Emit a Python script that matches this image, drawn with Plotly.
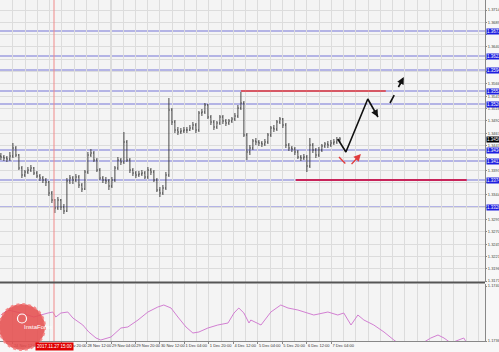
import plotly.graph_objects as go

# ---------------- data ----------------
closes = [
1.3420,1.3418,1.3416,1.3422,1.3438,1.3424,1.3398,1.3384,1.3390,1.3394,
1.3398,1.3388,1.3382,1.3378,1.3374,1.3370,1.3348,1.3334,1.3318,1.3334,
1.3320,1.3312,1.3372,1.3378,1.3374,1.3380,1.3364,1.3356,1.3390,1.3424,
1.3428,1.3414,1.3394,1.3378,1.3374,1.3372,1.3362,1.3374,1.3398,1.3414,
1.3410,1.3450,1.3414,1.3394,1.3388,1.3384,1.3386,1.3388,1.3380,1.3394,
1.3390,1.3374,1.3354,1.3348,1.3358,1.3384,1.3514,1.3490,1.3474,1.3470,
1.3472,1.3474,1.3474,1.3478,1.3484,1.3474,1.3508,1.3510,1.3524,1.3500,
1.3490,1.3480,1.3488,1.3500,1.3492,1.3488,1.3492,1.3496,1.3502,1.3518,
1.3528,1.3464,1.3430,1.3438,1.3452,1.3450,1.3448,1.3446,1.3450,1.3464,
1.3478,1.3476,1.3490,1.3496,1.3484,1.3444,1.3438,1.3436,1.3430,1.3420,
1.3418,1.3420,1.3402,1.3444,1.3434,1.3424,1.3434,1.3442,1.3446,1.3444,
1.3448,1.3450,1.3454,1.3456]

highs = [
1.3428,1.3424,1.3422,1.3430,1.3448,1.3442,1.3426,1.3402,1.3394,1.3400,
1.3404,1.3400,1.3392,1.3386,1.3382,1.3378,1.3372,1.3352,1.3336,1.3340,
1.3336,1.3326,1.3378,1.3384,1.3382,1.3386,1.3384,1.3368,1.3394,1.3430,
1.3436,1.3432,1.3418,1.3398,1.3382,1.3380,1.3376,1.3380,1.3402,1.3420,
1.3418,1.3470,1.3454,1.3418,1.3398,1.3392,1.3392,1.3394,1.3392,1.3400,
1.3398,1.3394,1.3378,1.3360,1.3364,1.3390,1.3538,1.3518,1.3494,1.3480,
1.3478,1.3480,1.3480,1.3484,1.3490,1.3488,1.3512,1.3516,1.3528,1.3526,
1.3504,1.3494,1.3492,1.3504,1.3504,1.3496,1.3496,1.3500,1.3508,1.3524,
1.3550,1.3532,1.3468,1.3444,1.3456,1.3458,1.3454,1.3452,1.3456,1.3468,
1.3482,1.3484,1.3494,1.3500,1.3498,1.3488,1.3448,1.3442,1.3440,1.3434,
1.3424,1.3426,1.3424,1.3458,1.3448,1.3438,1.3440,1.3446,1.3450,1.3452,
1.3454,1.3456,1.3460,1.3460]

lows = [
1.3414,1.3412,1.3410,1.3412,1.3418,1.3420,1.3394,1.3378,1.3380,1.3386,
1.3390,1.3384,1.3378,1.3372,1.3368,1.3362,1.3342,1.3328,1.3308,1.3314,
1.3314,1.3306,1.3310,1.3366,1.3366,1.3370,1.3358,1.3350,1.3354,1.3386,
1.3420,1.3410,1.3390,1.3374,1.3368,1.3366,1.3354,1.3358,1.3370,1.3394,
1.3404,1.3406,1.3410,1.3388,1.3382,1.3378,1.3380,1.3382,1.3376,1.3376,
1.3384,1.3370,1.3350,1.3340,1.3344,1.3354,1.3380,1.3484,1.3468,1.3464,
1.3466,1.3468,1.3468,1.3472,1.3474,1.3468,1.3470,1.3502,1.3506,1.3496,
1.3484,1.3474,1.3476,1.3484,1.3486,1.3482,1.3484,1.3488,1.3492,1.3498,
1.3514,1.3460,1.3414,1.3424,1.3434,1.3444,1.3442,1.3440,1.3442,1.3446,
1.3460,1.3470,1.3472,1.3486,1.3478,1.3438,1.3432,1.3430,1.3424,1.3416,
1.3412,1.3414,1.3390,1.3398,1.3428,1.3418,1.3420,1.3430,1.3438,1.3438,
1.3440,1.3444,1.3446,1.3450]

first_open = 1.3422
opens = [first_open] + closes[:-1]
bars = list(range(len(closes)))

# oscillator (lower window)
osc_x = [
0.0,2.3,6.7,11.0,15.7,17.3,18.3,20.0,22.3,24.0,
27.3,29.3,31.7,33.3,36.7,40.0,42.3,45.7,49.0,52.3,
54.3,56.7,59.0,61.7,64.0,66.0,69.0,72.3,75.7,77.7,
79.3,81.0,82.7,83.3,86.7,90.0,93.3,95.7,99.0,102.3,
104.3,109.0,112.3,114.3,116.7,119.0,121.0,124.3,127.7,131.0,
133.3,136.7,140.7,143.3,145.7,147.7,150.0,152.3,154.3,155.7]
osc_val = [
26,31,28,24,28,29,24,28,29,23,
16,9,3,1,4,13,14,21,29,34,
36,33,24,14,8,9,13,16,18,28,
33,28,18,21,16,29,36,33,31,28,
26,29,26,28,16,26,21,16,9,1,
-4,-9,-2,3,6,3,-2,1,3,-4]
osc_ticks = [55, 0]
osc_tick_labels = ["1.17400", "1.17362"]

# horizontal levels
blue_levels = [1.3672, 1.3622, 1.3594, 1.3552, 1.3526, 1.3434, 1.3412, 1.3374, 1.3320]
resist_level = 1.3552
resist_span = [80.0, 128.3]
support_level = 1.3374
support_span = [98.3, 155.3]

# forecast paths
fc_main_x = [112.3, 115.0, 122.3, 125.7]
fc_main_y = [1.3456, 1.3430, 1.3536, 1.3500]
fc_next_x = [129.7, 134.3]
fc_next_y = [1.3528, 1.3580]
fc_alt_x = [112.7, 116.0, 120.0]
fc_alt_y = [1.3420, 1.3400, 1.3426]

# axes
price_ticks = [1.37140, 1.36894, 1.36647, 1.36401, 1.36154, 1.35908, 1.35662, 1.35415,
               1.35169, 1.34922, 1.34676, 1.34430, 1.34183, 1.33937, 1.33690, 1.33444,
               1.33198, 1.32951, 1.32705, 1.32458, 1.32212, 1.31966, 1.31719]
price_tick_labels = ["1.37140", "1.36894", "", "1.36401", "", "", "1.35662", "1.35415",
                     "1.35169", "1.34922", "1.34676", "1.34430", "", "1.33937", "", "1.33444",
                     "", "1.32951", "1.32705", "1.32458", "1.32212", "1.31966", "1.31719"]
time_tick_bars = [4.0, 12.2, 20.3, 28.5, 36.7, 44.8, 53.0, 61.2, 69.3, 77.5, 85.7, 93.8, 102.0, 110.2]
time_tick_labels = ["24 Nov 12:00", "27 Nov 04:00", "27 Nov 20:00", "28 Nov 12:00",
                    "29 Nov 04:00", "29 Nov 20:00", "30 Nov 12:00", "1 Dec 04:00",
                    "1 Dec 20:00", "4 Dec 12:00", "5 Dec 04:00", "5 Dec 20:00",
                    "6 Dec 12:00", "7 Dec 04:00"]
marker_bar = 17.7
marker_label = "2017.11.27 15:00"

# ---------------- figure ----------------
W, H = 499, 352
ML, MR, MT, MB = 0, 14, 0, 11
PH = H - MT - MB  # 341
main_bottom = 1 - 282 / PH
osc_top = 57 / PH
FONT = "Liberation Sans"
GRID = "#dcdcdc"

fig = go.Figure()
fig.add_trace(go.Ohlc(
    x=bars, open=opens, high=highs, low=lows, close=closes,
    increasing=dict(line=dict(color="#333333", width=0.9)),
    decreasing=dict(line=dict(color="#333333", width=0.9)),
    tickwidth=0.3, xaxis="x", yaxis="y", hoverinfo="skip", showlegend=False))

fig.add_trace(go.Scatter(x=osc_x, y=osc_val, xaxis="x2", yaxis="y2", mode="lines",
                         line=dict(color="#d27fd2", width=1), showlegend=False, hoverinfo="skip"))

fig.add_trace(go.Scatter(x=fc_main_x, y=fc_main_y, mode="lines",
                         line=dict(color="#111111", width=1.6), showlegend=False, hoverinfo="skip"))
fig.add_trace(go.Scatter(x=fc_next_x, y=fc_next_y, mode="lines",
                         line=dict(color="#111111", width=1.6, dash="dash"), showlegend=False, hoverinfo="skip"))
fig.add_trace(go.Scatter(x=fc_alt_x, y=fc_alt_y, mode="lines",
                         line=dict(color="#e03c3c", width=1.4, dash="dash"), showlegend=False, hoverinfo="skip"))

shapes = []
for lv in blue_levels:
    shapes.append(dict(type="line", xref="paper", x0=0, x1=1, yref="y", y0=lv, y1=lv,
                       line=dict(color="#7474d6", width=1), layer="below"))
shapes.append(dict(type="line", xref="x", x0=resist_span[0], x1=resist_span[1], yref="y",
                   y0=resist_level, y1=resist_level, line=dict(color="#e23a3a", width=1.6)))
shapes.append(dict(type="line", xref="x", x0=support_span[0], x1=support_span[1], yref="y",
                   y0=support_level, y1=support_level, line=dict(color="#c8245a", width=2)))
shapes.append(dict(type="line", xref="x", x0=marker_bar, x1=marker_bar, yref="paper", y0=0, y1=1,
                   line=dict(color="#f08a8a", width=1)))
# separator between windows
shapes.append(dict(type="line", xref="paper", x0=0, x1=1, yref="paper",
                   y0=1 - 282.5 / PH, y1=1 - 282.5 / PH, line=dict(color="#555555", width=2)))
# logo badge
shapes.append(dict(type="circle", xref="paper", yref="paper",
                   x0=-1 / 485, x1=45 / 485, y0=1 - 350 / PH, y1=1 - 304 / PH,
                   fillcolor="rgba(229,78,78,0.88)", line=dict(color="rgba(244,130,130,0.9)", width=2, dash="dot"),
                   layer="above"))
shapes.append(dict(type="circle", xref="paper", yref="paper",
                   x0=17.5 / 485, x1=26.5 / 485, y0=1 - 323 / PH, y1=1 - 314 / PH,
                   fillcolor="rgba(0,0,0,0)", line=dict(color="white", width=1.2), layer="above"))

annotations = []
for lv in blue_levels:
    annotations.append(dict(xref="paper", x=1, xanchor="left", xshift=1, yref="y", y=lv,
                            text=f"{lv:.5f}", showarrow=False, bgcolor="#1e1ee0",
                            font=dict(color="white", size=4.5, family=FONT), borderpad=0))
annotations.append(dict(xref="paper", x=1, xanchor="left", xshift=1, yref="y", y=closes[-1],
                        text=f"{closes[-1]:.5f}", showarrow=False, bgcolor="#000000",
                        font=dict(color="white", size=4.5, family=FONT), borderpad=0))
annotations.append(dict(xref="x", x=marker_bar, xanchor="center", yref="paper", y=1 - 346.5 / PH,
                        yanchor="middle", text=marker_label, showarrow=False, bgcolor="#e00000",
                        font=dict(color="white", size=4.5, family=FONT), borderpad=1))
annotations.append(dict(xref="paper", x=22 / 485, yref="paper", y=1 - 332 / PH, text="InstaForex",
                        showarrow=False, font=dict(color="white", size=6, family=FONT)))
# arrow heads at the ends of the forecast paths
for xs, ys, col in [(fc_main_x, fc_main_y, "#111111"), (fc_next_x, fc_next_y, "#111111"),
                    (fc_alt_x, fc_alt_y, "#e03c3c")]:
    ax = xs[-2] + (xs[-1] - xs[-2]) * 0.6
    ay = ys[-2] + (ys[-1] - ys[-2]) * 0.6
    annotations.append(dict(xref="x", yref="y", axref="x", ayref="y", x=xs[-1], y=ys[-1],
                            ax=ax, ay=ay, text="", showarrow=True, arrowhead=2,
                            arrowsize=1.1, arrowwidth=1.3, arrowcolor=col))

fig.update_layout(
    width=W, height=H, autosize=False,
    margin=dict(l=ML, r=MR, t=MT, b=MB, pad=0, autoexpand=False),
    paper_bgcolor="#f7f7f7", plot_bgcolor="#f4f4f4",
    font=dict(family=FONT, size=5, color="#444444"),
    showlegend=False,
    xaxis=dict(domain=[0, 1], range=[-0.3, 161.37], anchor="y", showticklabels=False,
               tickvals=time_tick_bars, showgrid=True, gridcolor=GRID, gridwidth=1,
               minor=dict(tick0=-0.08, dtick=4.083, showgrid=True, gridcolor=GRID),
               zeroline=False, rangeslider=dict(visible=False), ticks="", automargin=False),
    xaxis2=dict(domain=[0, 1], matches="x", anchor="y2", tickvals=time_tick_bars,
                ticktext=time_tick_labels, ticklabelposition="outside right", tickangle=0,
                tickfont=dict(size=4, color="#333333", family=FONT),
                showgrid=True, gridcolor=GRID,
                minor=dict(tick0=-0.08, dtick=4.083, showgrid=True, gridcolor=GRID),
                showline=True, linecolor="#888888", linewidth=1, ticks="outside", ticklen=2,
                tickcolor="#888888", zeroline=False, automargin=False),
    yaxis=dict(domain=[main_bottom, 1], range=[1.3170, 1.3734], side="right", anchor="x",
               tickvals=price_ticks, ticktext=price_tick_labels,
               tickfont=dict(size=4, color="#444444", family=FONT),
               showgrid=True, gridcolor=GRID, showline=True, linecolor="#888888",
               ticks="outside", ticklen=1, tickcolor="#888888", zeroline=False, automargin=False),
    yaxis2=dict(domain=[0, osc_top], range=[0, 57], side="right", anchor="x2",
                tickvals=osc_ticks, ticktext=osc_tick_labels,
                tickfont=dict(size=4, color="#444444", family=FONT),
                showgrid=False, showline=True, linecolor="#888888",
                ticks="outside", ticklen=1, tickcolor="#888888", zeroline=False, automargin=False),
    shapes=shapes, annotations=annotations,
)

fig.write_html("out.html")
